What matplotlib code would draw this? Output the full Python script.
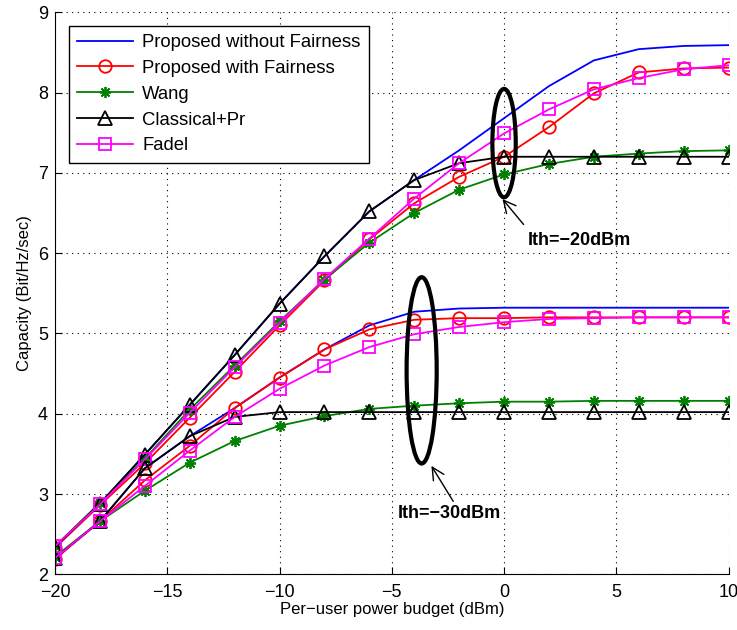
import numpy as np
import matplotlib
matplotlib.use("Agg")
import matplotlib.pyplot as plt
from matplotlib.patches import Ellipse

plt.rcParams['font.family'] = ['Liberation Sans', 'DejaVu Sans']

x = [-20, -18, -16, -14, -12, -10, -8, -6, -4, -2, 0, 2, 4, 6, 8, 10]

# Ith = -20 dBm
nofair_20 = [2.34, 2.88, 3.49, 4.11, 4.73, 5.37, 5.96, 6.52, 6.91, 7.28, 7.68, 8.08, 8.40, 8.54, 8.58, 8.59]
fair_20 = [2.33, 2.86, 3.38, 3.95, 4.52, 5.10, 5.66, 6.17, 6.62, 6.95, 7.20, 7.57, 7.99, 8.25, 8.30, 8.31]
wang_20 = [2.35, 2.89, 3.44, 4.05, 4.60, 5.15, 5.67, 6.13, 6.50, 6.79, 6.98, 7.11, 7.20, 7.24, 7.27, 7.28]
classic_20 = [2.34, 2.88, 3.49, 4.11, 4.73, 5.37, 5.96, 6.52, 6.91, 7.12, 7.20, 7.20, 7.20, 7.20, 7.20, 7.20]
fadel_20 = [2.35, 2.87, 3.43, 4.01, 4.58, 5.13, 5.68, 6.18, 6.68, 7.12, 7.49, 7.79, 8.04, 8.18, 8.29, 8.34]

# Ith = -30 dBm
nofair_30 = [2.20, 2.66, 3.32, 3.72, 4.07, 4.45, 4.80, 5.10, 5.27, 5.31, 5.32, 5.32, 5.32, 5.32, 5.32, 5.32]
fair_30 = [2.19, 2.66, 3.17, 3.60, 4.07, 4.45, 4.80, 5.05, 5.17, 5.19, 5.19, 5.20, 5.20, 5.20, 5.20, 5.20]
wang_30 = [2.22, 2.66, 3.04, 3.39, 3.66, 3.85, 3.97, 4.06, 4.10, 4.13, 4.15, 4.15, 4.16, 4.16, 4.16, 4.16]
classic_30 = [2.20, 2.66, 3.32, 3.72, 3.96, 4.02, 4.02, 4.02, 4.02, 4.02, 4.02, 4.02, 4.02, 4.02, 4.02, 4.02]
fadel_30 = [2.20, 2.66, 3.10, 3.54, 3.96, 4.31, 4.60, 4.83, 4.99, 5.08, 5.14, 5.18, 5.19, 5.20, 5.20, 5.20]

labels = ['Proposed without Fairness', 'Proposed with Fairness', 'Wang', 'Classical+Pr', 'Fadel']

fig = plt.figure(figsize=(7.37, 6.30), dpi=100)
ax = fig.add_axes([0.0746, 0.0884, 0.914, 0.8922])

ms = 9
star = (8, 2, 0)  # matlab style '*' asterisk
for grp, show in [((nofair_20, fair_20, wang_20, classic_20, fadel_20), True),
                  ((nofair_30, fair_30, wang_30, classic_30, fadel_30), False)]:
    nf, fa, wa, cl, fd = grp
    ax.plot(x, nf, '-', color='blue', lw=1.3, label=labels[0] if show else None)
    ax.plot(x, fa, '-o', color='red', lw=1.3, ms=ms, mfc='none', mew=1.3, label=labels[1] if show else None)
    ax.plot(x, wa, '-', marker=star, color='green', lw=1.3, ms=ms - 1, mew=1.3, label=labels[2] if show else None)
    ax.plot(x, cl, '-^', color='black', lw=1.3, ms=ms + 1, mfc='none', mew=1.3, label=labels[3] if show else None)
    ax.plot(x, fd, '-s', color='magenta', lw=1.3, ms=ms - 1, mfc='none', mew=1.3, label=labels[4] if show else None)

# annotations
ax.add_patch(Ellipse((0, 7.37), 1.04, 1.35, fill=False, lw=3, ec='black', zorder=5))
ax.add_patch(Ellipse((-3.67, 4.54), 1.34, 2.32, fill=False, lw=3, ec='black', zorder=5))
ax.annotate('', xy=(-0.15, 6.70), xytext=(0.95, 6.33),
            arrowprops=dict(arrowstyle='->', lw=1.0, color='black', mutation_scale=22))
ax.annotate('', xy=(-3.3, 3.38), xytext=(-2.2, 2.88),
            arrowprops=dict(arrowstyle='->', lw=1.0, color='black', mutation_scale=22))
ax.text(1.05, 6.16, 'Ith=\u221220dBm', fontsize=13, fontweight='bold', va='center', ha='left')
ax.text(-4.75, 2.76, 'Ith=\u221230dBm', fontsize=13, fontweight='bold', va='center', ha='left')

ax.set_xlim(-20, 10)
ax.set_ylim(2, 9)
ax.set_xticks([-20, -15, -10, -5, 0, 5, 10])
ax.set_xticklabels(['\u221220', '\u221215', '\u221210', '\u22125', '0', '5', '10'])
ax.set_yticks([2, 3, 4, 5, 6, 7, 8, 9])
ax.tick_params(direction='in', labelsize=13, length=5)
ax.tick_params(axis='x', pad=7)
ax.tick_params(axis='y', pad=5)
ax.grid(True, color='black', linestyle=(0, (1, 4)), lw=0.8)
ax.spines['top'].set_visible(False)
ax.spines['right'].set_visible(False)
ax.set_xlabel('Per\u2212user power budget (dBm)', fontsize=12, labelpad=1)
ax.set_ylabel('Capacity (Bit/Hz/sec)', fontsize=12, labelpad=4)

leg = ax.legend(loc='upper left', bbox_to_anchor=(0.021, 0.976), fontsize=13.3, frameon=True,
                fancybox=False, edgecolor='black', framealpha=1, handlelength=3.0,
                borderpad=0.45, labelspacing=0.48, handletextpad=0.5, borderaxespad=0)
leg.get_frame().set_linewidth(1.0)

fig.savefig('out.png', dpi=100)
